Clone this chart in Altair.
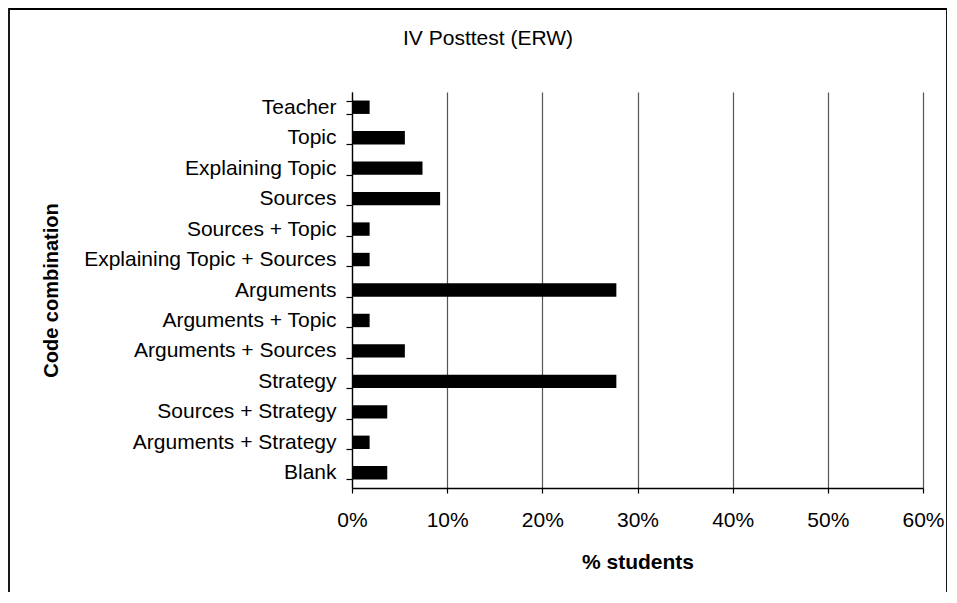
import altair as alt
import pandas as pd

categories = [
    "Teacher", "Topic", "Explaining Topic", "Sources", "Sources + Topic",
    "Explaining Topic + Sources", "Arguments", "Arguments + Topic",
    "Arguments + Sources", "Strategy", "Sources + Strategy",
    "Arguments + Strategy", "Blank",
]
# share of students (54 students in total)
shares = [1/54, 3/54, 4/54, 5/54, 1/54, 1/54, 15/54, 1/54, 3/54, 15/54, 2/54, 1/54, 2/54]
x_ticks = [0, 0.1, 0.2, 0.3, 0.4, 0.5, 0.6]
chart_title = "IV Posttest (ERW)"

df = pd.DataFrame({"cat": categories, "share": shares})
FONT = "Liberation Sans"

W, H = 571, 396

bars = alt.Chart(df).mark_bar(color="black").encode(
    x=alt.X("share:Q",
            scale=alt.Scale(domain=[0, 0.6], nice=False),
            axis=alt.Axis(values=x_ticks, format=".0%", title="% students",
                          grid=True, gridColor="#555555", gridWidth=1.2,
                          domainColor="black", domainWidth=1.3,
                          tickColor="black", tickSize=5, tickWidth=1.2,
                          labelFontSize=21, labelFont=FONT, labelColor="black",
                          labelPadding=16, labelFlush=False, labelOverlap=False,
                          titleFont=FONT, titleFontSize=21, titleFontWeight="bold",
                          titleColor="black", titleY=74, titleBaseline="middle")),
    y=alt.Y("cat:N", sort=categories,
            scale=alt.Scale(paddingInner=0.56, paddingOuter=0.28),
            axis=alt.Axis(title="Code combination", tickBand="extent",
                          grid=False, domainColor="black", domainWidth=1.3,
                          tickColor="black", tickSize=6, tickWidth=1.2,
                          labelFontSize=21, labelFont=FONT, labelColor="black",
                          labelPadding=10, labelLimit=500,
                          titleFont=FONT, titleFontSize=20, titleFontWeight="bold",
                          titleColor="black", titleAngle=270, titleX=-301,
                          titleY=H / 2, titleBaseline="middle", titleAlign="center")),
)

one = pd.DataFrame({"t": [chart_title]})
title = alt.Chart(one).mark_text(font=FONT, fontSize=21, color="black",
                                 align="center", baseline="alphabetic").encode(
    text="t:N", x=alt.value(136), y=alt.value(-47))

border = alt.Chart(one).mark_rect(fill=None, stroke="black", strokeWidth=1.8).encode(
    x=alt.value(-343), x2=alt.value(595), y=alt.value(-83), y2=alt.value(560))

chart = alt.layer(border, bars, title).properties(
    width=W, height=H,
    autosize=alt.AutoSizeParams(type="none"),
    padding={"left": 344, "top": 84, "right": 24, "bottom": 104},
).configure_view(stroke=None)

chart.save("out.html", embed_options={"renderer": "svg", "actions": False})
